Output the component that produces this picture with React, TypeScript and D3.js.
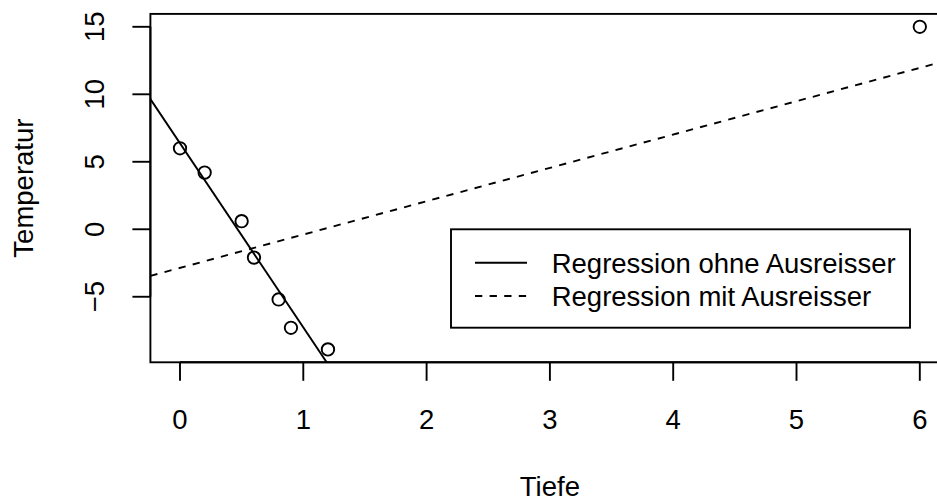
import React from "react";
import * as d3 from "d3";

const tiefe = [0, 0.2, 0.5, 0.6, 0.8, 0.9, 1.2, 6];
const temperatur = [6, 4.2, 0.6, -2.1, -5.2, -7.3, -8.9, 15];
const xTicks = [0, 1, 2, 3, 4, 5, 6];
const yTicks = [-5, 0, 5, 10, 15];
const legendLabels = ["Regression ohne Ausreisser", "Regression mit Ausreisser"];
const xLabel = "Tiefe";
const yLabel = "Temperatur";

function fit(xs: number[], ys: number[]) {
  const mx = d3.mean(xs) as number;
  const my = d3.mean(ys) as number;
  let sxx = 0, sxy = 0;
  xs.forEach((x, i) => { sxx += (x - mx) ** 2; sxy += (x - mx) * (ys[i] - my); });
  const b = sxy / sxx;
  return { a: my - b * mx, b };
}

export default function App() {
  const W = 937, H = 502;
  const fs = 27.5;
  const font = "'Liberation Sans', Arial, Helvetica, sans-serif";
  const sw = 1.9;
  const xmin = d3.min(tiefe) as number, xmax = d3.max(tiefe) as number;
  const ymin = d3.min(temperatur) as number, ymax = d3.max(temperatur) as number;
  const xe = (xmax - xmin) * 0.04, ye = (ymax - ymin) * 0.04;
  const x = d3.scaleLinear().domain([xmin - xe, xmax + xe]).range([150.4, 949.4]);
  const y = d3.scaleLinear().domain([ymin - ye, ymax + ye]).range([362.3, 13.9]);
  const [L, R] = x.range();
  const [B, T] = y.range();

  const fitOhne = fit(tiefe.slice(0, 7), temperatur.slice(0, 7));
  const fitMit = fit(tiefe, temperatur);
  const [dx0, dx1] = x.domain();
  const lineOf = (f: { a: number; b: number }) =>
    d3.line<number>().x((v) => x(v)).y((v) => y(f.a + f.b * v))([dx0, dx1]) as string;

  const dash = "7.3,7.3";

  return (
    <svg width={W} height={H} style={{ position: "fixed", left: 0, top: 0, background: "white" }}
      fontFamily={font} fontSize={fs}>
      <defs>
        <clipPath id="plotclip">
          <rect x={L} y={T} width={R - L} height={B - T} />
        </clipPath>
      </defs>
      <rect x={0} y={0} width={W} height={H} fill="white" />
      <g clipPath="url(#plotclip)" fill="none" stroke="black" strokeWidth={sw}>
        <path d={lineOf(fitOhne)} />
        <path d={lineOf(fitMit)} strokeDasharray={dash} />
      </g>
      {tiefe.map((v, i) => (
        <circle key={i} cx={x(v)} cy={y(temperatur[i])} r={6.2} fill="none" stroke="black" strokeWidth={sw} />
      ))}
      <rect x={L} y={T} width={R - L} height={B - T} fill="none" stroke="black" strokeWidth={sw} />
      {/* x axis */}
      <line x1={x(xTicks[0])} x2={x(xTicks[xTicks.length - 1])} y1={B} y2={B} stroke="black" strokeWidth={sw} />
      {xTicks.map((t) => (
        <g key={t}>
          <line x1={x(t)} x2={x(t)} y1={B} y2={B + 18.5} stroke="black" strokeWidth={sw} />
          <text x={x(t)} y={429} textAnchor="middle">{t}</text>
        </g>
      ))}
      {/* y axis */}
      <line x1={L} x2={L} y1={y(yTicks[0])} y2={y(yTicks[yTicks.length - 1])} stroke="black" strokeWidth={sw} />
      {yTicks.map((t) => (
        <g key={t}>
          <line x1={L - 18} x2={L} y1={y(t)} y2={y(t)} stroke="black" strokeWidth={sw} />
          <text transform={`translate(103.5,${y(t)}) rotate(-90)`} textAnchor="middle">
            {t < 0 ? "\u2212" + Math.abs(t) : t}
          </text>
        </g>
      ))}
      <text x={(L + R) / 2} y={496} textAnchor="middle">{xLabel}</text>
      <text transform={`translate(32.7,${(T + B) / 2}) rotate(-90)`} textAnchor="middle">{yLabel}</text>
      {/* legend */}
      <rect x={451} y={229.3} width={459} height={98.4} fill="white" stroke="black" strokeWidth={sw} />
      {legendLabels.map((lab, i) => {
        const ry = 262.7 + i * 33.3;
        return (
          <g key={lab}>
            <line x1={475} x2={527} y1={ry} y2={ry} stroke="black" strokeWidth={sw}
              strokeDasharray={i === 1 ? dash : undefined} />
            <text x={551.7} y={ry + 10.3}>{lab}</text>
          </g>
        );
      })}
    </svg>
  );
}
